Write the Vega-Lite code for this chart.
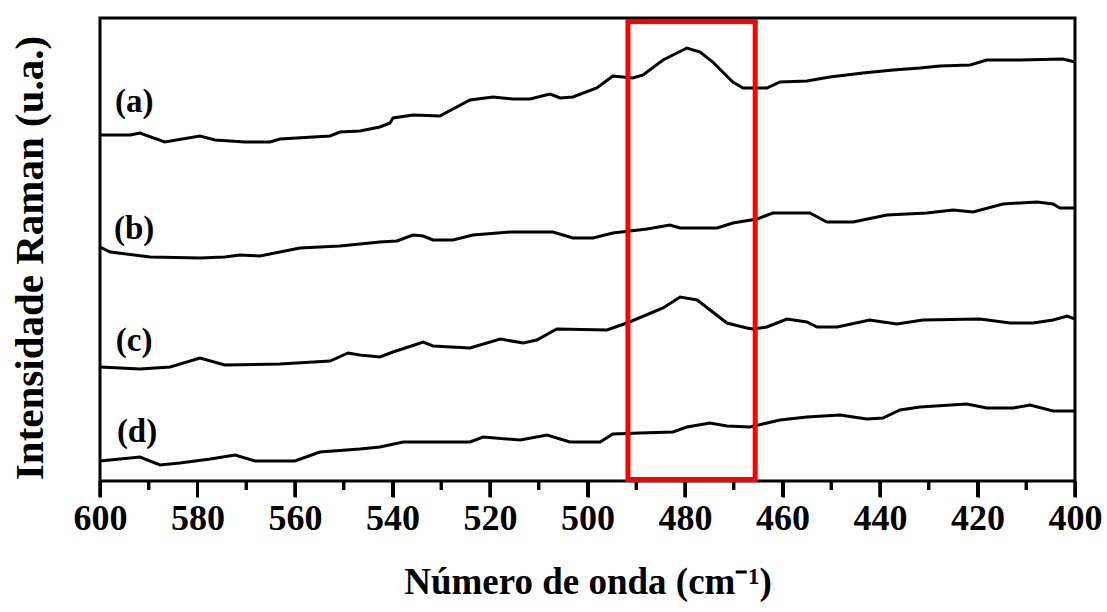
{
  "$schema": "https://vega.github.io/schema/vega-lite/v6.json",
  "autosize": "none",
  "width": 975,
  "height": 479,
  "padding": {"left": 100, "top": 18, "right": 32, "bottom": 115},
  "background": "white",
  "config": {
    "view": {"stroke": null},
    "font": "Liberation Serif"
  },
  "datasets": {
    "spectra": [
      {"s":"a","w":600,"v":346},{"s":"a","w":593.8,"v":346},{"s":"a","w":591.8,"v":348},{"s":"a","w":586.7,"v":339},{"s":"a","w":579.5,"v":345},{"s":"a","w":576.4,"v":341},{"s":"a","w":570.3,"v":339},{"s":"a","w":565.1,"v":339},{"s":"a","w":563.1,"v":342},{"s":"a","w":552.8,"v":345},{"s":"a","w":550.8,"v":349},{"s":"a","w":546.7,"v":350},{"s":"a","w":542.6,"v":354},{"s":"a","w":540.5,"v":358},{"s":"a","w":539.9,"v":363},{"s":"a","w":535.8,"v":366},{"s":"a","w":530.3,"v":365},{"s":"a","w":524.1,"v":381},{"s":"a","w":519.4,"v":384},{"s":"a","w":515.3,"v":382},{"s":"a","w":511.8,"v":382},{"s":"a","w":507.7,"v":387},{"s":"a","w":505.6,"v":383},{"s":"a","w":503.0,"v":384},{"s":"a","w":498.1,"v":393},{"s":"a","w":494.8,"v":405},{"s":"a","w":490.7,"v":403},{"s":"a","w":488.6,"v":406},{"s":"a","w":484.5,"v":421},{"s":"a","w":479.6,"v":433},{"s":"a","w":476.9,"v":429},{"s":"a","w":474.3,"v":419},{"s":"a","w":470.2,"v":399},{"s":"a","w":468.1,"v":393},{"s":"a","w":463.2,"v":393},{"s":"a","w":460.5,"v":399},{"s":"a","w":455.0,"v":400},{"s":"a","w":450.3,"v":404},{"s":"a","w":443.5,"v":408},{"s":"a","w":437.3,"v":411},{"s":"a","w":431.8,"v":413},{"s":"a","w":427.7,"v":415},{"s":"a","w":421.5,"v":416},{"s":"a","w":418.1,"v":421},{"s":"a","w":411.3,"v":421},{"s":"a","w":402.5,"v":422},{"s":"a","w":400,"v":419},
      {"s":"b","w":600,"v":234},{"s":"b","w":597.9,"v":229},{"s":"b","w":589.7,"v":224},{"s":"b","w":579.5,"v":223},{"s":"b","w":574.4,"v":224},{"s":"b","w":571.3,"v":226},{"s":"b","w":567.2,"v":225},{"s":"b","w":559.0,"v":233},{"s":"b","w":550.8,"v":235},{"s":"b","w":544.6,"v":238},{"s":"b","w":542.6,"v":239},{"s":"b","w":539.1,"v":240},{"s":"b","w":535.8,"v":246},{"s":"b","w":533.7,"v":245},{"s":"b","w":531.7,"v":241},{"s":"b","w":527.6,"v":241},{"s":"b","w":523.5,"v":246},{"s":"b","w":515.9,"v":249},{"s":"b","w":507.1,"v":249},{"s":"b","w":503.0,"v":243},{"s":"b","w":498.9,"v":243},{"s":"b","w":494.8,"v":248},{"s":"b","w":487.8,"v":252},{"s":"b","w":483.1,"v":256},{"s":"b","w":481.0,"v":253},{"s":"b","w":473.4,"v":253},{"s":"b","w":470.2,"v":258},{"s":"b","w":465.2,"v":262},{"s":"b","w":462.0,"v":268},{"s":"b","w":454.4,"v":268},{"s":"b","w":450.9,"v":259},{"s":"b","w":445.5,"v":259},{"s":"b","w":438.6,"v":266},{"s":"b","w":430.4,"v":268},{"s":"b","w":425.0,"v":271},{"s":"b","w":420.9,"v":269},{"s":"b","w":414.8,"v":277},{"s":"b","w":407.8,"v":279},{"s":"b","w":404.5,"v":277},{"s":"b","w":403.1,"v":273},{"s":"b","w":400,"v":273},
      {"s":"c","w":600,"v":114},{"s":"c","w":591.8,"v":112},{"s":"c","w":585.6,"v":114},{"s":"c","w":579.5,"v":123},{"s":"c","w":574.4,"v":116},{"s":"c","w":563.1,"v":117},{"s":"c","w":552.8,"v":120},{"s":"c","w":549.1,"v":128},{"s":"c","w":546.7,"v":126},{"s":"c","w":542.6,"v":124},{"s":"c","w":539.9,"v":129},{"s":"c","w":533.7,"v":139},{"s":"c","w":531.7,"v":135},{"s":"c","w":524.1,"v":133},{"s":"c","w":517.9,"v":142},{"s":"c","w":513.2,"v":138},{"s":"c","w":510.4,"v":141},{"s":"c","w":506.3,"v":152},{"s":"c","w":496.0,"v":151},{"s":"c","w":491.9,"v":158},{"s":"c","w":484.5,"v":173},{"s":"c","w":481.0,"v":184},{"s":"c","w":477.5,"v":181},{"s":"c","w":471.4,"v":158},{"s":"c","w":467.3,"v":153},{"s":"c","w":466.1,"v":152},{"s":"c","w":463.2,"v":154},{"s":"c","w":459.1,"v":162},{"s":"c","w":455.0,"v":159},{"s":"c","w":452.9,"v":154},{"s":"c","w":448.8,"v":154},{"s":"c","w":442.1,"v":161},{"s":"c","w":439.4,"v":159},{"s":"c","w":436.5,"v":157},{"s":"c","w":431.2,"v":161},{"s":"c","w":419.5,"v":162},{"s":"c","w":413.3,"v":158},{"s":"c","w":408.6,"v":158},{"s":"c","w":404.5,"v":161},{"s":"c","w":401.6,"v":165},{"s":"c","w":400,"v":162},
      {"s":"d","w":600,"v":20},{"s":"d","w":591.8,"v":24},{"s":"d","w":587.7,"v":16},{"s":"d","w":583.6,"v":18},{"s":"d","w":577.4,"v":22},{"s":"d","w":572.3,"v":26},{"s":"d","w":568.2,"v":20},{"s":"d","w":560.0,"v":20},{"s":"d","w":554.9,"v":29},{"s":"d","w":546.7,"v":32},{"s":"d","w":542.6,"v":34},{"s":"d","w":537.8,"v":39},{"s":"d","w":524.1,"v":39},{"s":"d","w":521.4,"v":44},{"s":"d","w":513.8,"v":41},{"s":"d","w":508.3,"v":46},{"s":"d","w":503.6,"v":39},{"s":"d","w":497.4,"v":39},{"s":"d","w":494.8,"v":47},{"s":"d","w":489.2,"v":48},{"s":"d","w":482.5,"v":49},{"s":"d","w":479.6,"v":54},{"s":"d","w":474.9,"v":58},{"s":"d","w":471.4,"v":55},{"s":"d","w":466.7,"v":54},{"s":"d","w":463.2,"v":58},{"s":"d","w":460.5,"v":61},{"s":"d","w":455.0,"v":64},{"s":"d","w":448.2,"v":66},{"s":"d","w":442.7,"v":62},{"s":"d","w":439.4,"v":63},{"s":"d","w":435.9,"v":71},{"s":"d","w":431.8,"v":74},{"s":"d","w":422.2,"v":77},{"s":"d","w":418.1,"v":73},{"s":"d","w":412.7,"v":73},{"s":"d","w":409.2,"v":76},{"s":"d","w":404.5,"v":70},{"s":"d","w":400,"v":70}
    ],
    "labels": [
      {"t":"(a)","w":593.0,"v":379},
      {"t":"(b)","w":593.0,"v":252},
      {"t":"(c)","w":593.0,"v":140},
      {"t":"(d)","w":592.4,"v":49}
    ],
    "frame": [{"x1":600,"x2":400,"y1":0,"y2":463}],
    "box": [{"x1":491.7,"x2":465.6,"y1":1.5,"y2":459.5}],
    "tickpos": [
      {"w":600,"k":"major"},{"w":590,"k":"minor"},{"w":580,"k":"major"},{"w":570,"k":"minor"},{"w":560,"k":"major"},{"w":550,"k":"minor"},{"w":540,"k":"major"},{"w":530,"k":"minor"},{"w":520,"k":"major"},{"w":510,"k":"minor"},{"w":500,"k":"major"},{"w":490,"k":"minor"},{"w":480,"k":"major"},{"w":470,"k":"minor"},{"w":460,"k":"major"},{"w":450,"k":"minor"},{"w":440,"k":"major"},{"w":430,"k":"minor"},{"w":420,"k":"major"},{"w":410,"k":"minor"},{"w":400,"k":"major"}
    ]
  },
  "layer": [
    {
      "data": {"name": "spectra"},
      "mark": {"type": "line", "color": "black", "strokeWidth": 3},
      "encoding": {
        "x": {
          "field": "w", "type": "quantitative",
          "scale": {"domain": [400, 600], "reverse": true, "nice": false, "zero": false},
          "axis": {
            "title": "Número de onda (cm⁻¹)",
            "values": [600,580,560,540,520,500,480,460,440,420,400],
            "grid": false, "domain": false, "offset": -16,
            "ticks": true, "tickColor": "#000000", "tickWidth": 3, "tickSize": 16,
            "labelFont": "Liberation Serif", "labelFontWeight": "bold", "labelFontSize": 36, "labelColor": "black",
            "labelPadding": 4, "labelFlush": false, "labelOverlap": false, "labelBaseline": "top",
            "titleFont": "Liberation Serif", "titleFontWeight": "bold", "titleFontSize": 37, "titleColor": "black",
            "titlePadding": 28
          }
        },
        "y": {
          "field": "v", "type": "quantitative",
          "scale": {"domain": [-16, 463], "nice": false, "zero": false},
          "axis": {
            "title": "Intensidade Raman (u.a.)",
            "ticks": false, "labels": false, "grid": false, "domain": false,
            "titleFont": "Liberation Serif", "titleFontWeight": "bold", "titleFontSize": 41, "titleColor": "black",
            "titlePadding": 49
          }
        },
        "detail": {"field": "s"}
      }
    },
    {
      "data": {"name": "frame"},
      "mark": {"type": "rect", "fill": null, "fillOpacity": 0, "stroke": "black", "strokeWidth": 3},
      "encoding": {
        "x": {"field": "x1", "type": "quantitative"},
        "x2": {"field": "x2"},
        "y": {"field": "y1", "type": "quantitative"},
        "y2": {"field": "y2"}
      }
    },
    {
      "data": {"name": "tickpos"},
      "transform": [{"filter": "datum.k === 'major'"}],
      "mark": {"type": "rect", "fill": null, "fillOpacity": 0, "stroke": "black", "strokeWidth": 3},
      "encoding": {
        "x": {"field": "w", "type": "quantitative"},
        "x2": {"field": "w"},
        "y": {"datum": 0, "type": "quantitative"},
        "y2": {"datum": -16}
      }
    },
    {
      "data": {"name": "tickpos"},
      "transform": [{"filter": "datum.k === 'minor'"}],
      "mark": {"type": "rect", "fill": null, "fillOpacity": 0, "stroke": "black", "strokeWidth": 3},
      "encoding": {
        "x": {"field": "w", "type": "quantitative"},
        "x2": {"field": "w"},
        "y": {"datum": 0, "type": "quantitative"},
        "y2": {"datum": -9}
      }
    },
    {
      "data": {"name": "tickpos"},
      "transform": [{"filter": "datum.k === 'major'"}],
      "mark": {"type": "rule", "color": "black", "strokeWidth": 3},
      "encoding": {
        "x": {"field": "w", "type": "quantitative"},
        "y": {"datum": 0, "type": "quantitative"},
        "y2": {"datum": -16}
      }
    },
    {
      "data": {"name": "tickpos"},
      "transform": [{"filter": "datum.k === 'minor'"}],
      "mark": {"type": "rule", "color": "black", "strokeWidth": 3},
      "encoding": {
        "x": {"field": "w", "type": "quantitative"},
        "y": {"datum": 0, "type": "quantitative"},
        "y2": {"datum": -9}
      }
    },
    {
      "data": {"name": "box"},
      "mark": {"type": "rect", "fill": null, "fillOpacity": 0, "stroke": "#ff0000", "strokeWidth": 5},
      "encoding": {
        "x": {"field": "x1", "type": "quantitative"},
        "x2": {"field": "x2"},
        "y": {"field": "y1", "type": "quantitative"},
        "y2": {"field": "y2"}
      }
    },
    {
      "data": {"name": "labels"},
      "mark": {"type": "text", "font": "Liberation Serif", "fontWeight": "bold", "fontSize": 33, "color": "black", "align": "center", "baseline": "middle"},
      "encoding": {
        "x": {"field": "w", "type": "quantitative"},
        "y": {"field": "v", "type": "quantitative"},
        "text": {"field": "t"}
      }
    }
  ]
}
